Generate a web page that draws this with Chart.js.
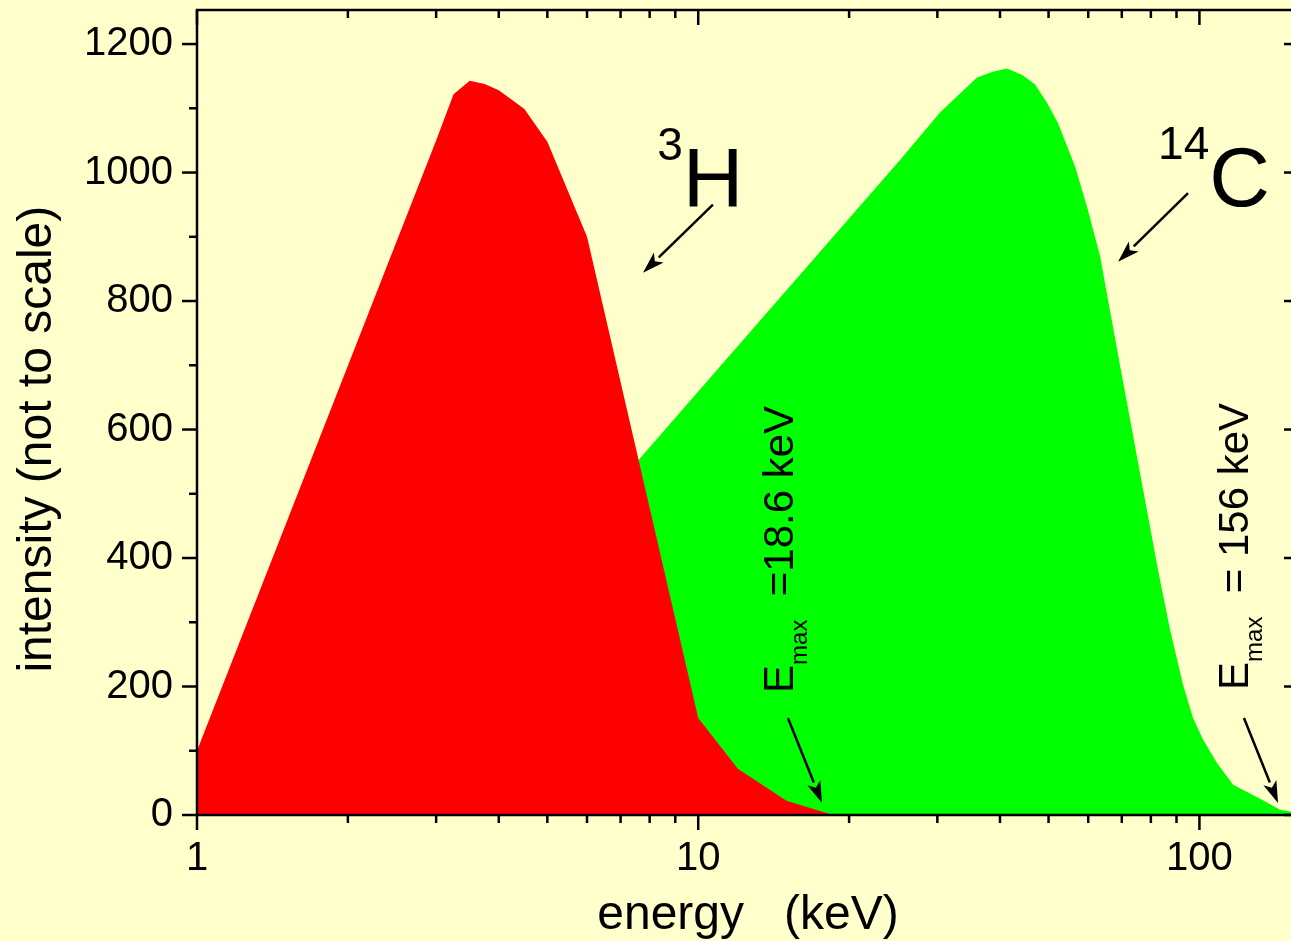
<!DOCTYPE html>
<html>
<head>
<meta charset="utf-8">
<script src="https://cdn.jsdelivr.net/npm/chart.js@4.4.1/dist/chart.umd.min.js"></script>
<style>
  html, body { margin: 0; padding: 0; overflow: hidden; background: #FFFFCC; }
  canvas { display: block; }
</style>
</head>
<body>
<canvas id="c" width="1301" height="941"></canvas>
<script>
// ---- data (energy in keV, intensity in arbitrary units) ----
const tritiumEnergy    = [1, 3, 3.25, 3.5, 3.75, 4, 4.5, 5, 6, 10, 12, 15, 18.6];
const tritiumIntensity = [100, 1050, 1122, 1143, 1138, 1128, 1099, 1048, 900, 151, 72, 22, 0];

const carbonEnergy    = [1.85, 7.55, 25.3, 30.4, 36, 38.7, 41.3, 44.3, 47, 49.6, 52.2, 56.5, 59.9, 63.4, 65.7, 69.4, 73.4, 77.9, 82.7, 87.4, 92.8, 97.1, 101.7, 108.4, 116.7, 133.9, 144.8, 152.6, 156];
const carbonIntensity = [0, 550, 1020, 1094, 1148, 1157, 1162, 1152, 1137, 1109, 1077, 1009, 942, 869, 802, 701, 599, 490, 381, 288, 202, 151, 117, 81, 47, 23, 8, 5, 0];

const xMin = 1, xMax = 158;
const yMin = 0, yMax = 1253;
const xMajorLabels = [1, 10, 100];
const yLabelStep = 200;
const yTickStep = 100;

const xTitle = 'energy   (keV)';
const yTitle = 'intensity (not to scale)    ';

// annotations in data units [energy, intensity]
const arrows = [
  [[10.70, 950], [7.76, 844]],
  [[94.9, 968], [68.8, 861]],
  [[15.1, 151], [17.66, 18.7]],
  [[122.7, 151], [143.5, 18.7]]
];
const isotopeLabels = [
  { at: [8.28, 947], sup: '3', main: 'H' },
  { at: [82.7, 948], sup: '14', main: 'C' }
];
const emaxLabels = [
  { at: [15.46, 190], rest: '  =18.6 keV' },
  { at: [125, 194.6], rest: '  = 156 keV' }
];

const FONT = '"Liberation Sans", Arial, Helvetica, sans-serif';

const bgPlugin = {
  id: 'bg',
  beforeDraw(chart) {
    const ctx = chart.ctx;
    ctx.save();
    ctx.fillStyle = '#FFFFCC';
    ctx.fillRect(0, 0, chart.width, chart.height);
    ctx.restore();
  }
};

function seg(ctx, x1, y1, x2, y2) {
  ctx.beginPath(); ctx.moveTo(x1, y1); ctx.lineTo(x2, y2); ctx.stroke();
}

const framePlugin = {
  id: 'frame',
  afterDatasetsDraw(chart) {
    const { ctx, chartArea: { left, right, top, bottom }, scales: { x, y } } = chart;
    ctx.save();
    ctx.strokeStyle = '#000';
    ctx.lineWidth = 2.5;
    ctx.lineCap = 'butt';
    x.ticks.forEach(t => {
      const v = t.value;
      const e = Math.floor(Math.log10(v) + 1e-9);
      const m = v / Math.pow(10, e);
      if (Math.abs(m - Math.round(m)) > 1e-6) return;
      const major = Math.round(m) === 1;
      const len = major ? 15 : 8;
      const px = x.getPixelForValue(v);
      seg(ctx, px, bottom, px, bottom + len);
      seg(ctx, px, top, px, top + len);
    });
    y.ticks.forEach(t => {
      const v = t.value;
      if (v % yTickStep !== 0) return;
      const major = v % yLabelStep === 0;
      const len = major ? 15 : 8;
      const py = y.getPixelForValue(v);
      seg(ctx, left - len, py, left, py);
      seg(ctx, right - len, py, right, py);
    });
    ctx.strokeRect(left, top, right - left, bottom - top);
    ctx.restore();
  },
  afterDraw(chart) {
    const { ctx, scales: { x, y } } = chart;
    const P = (p) => [x.getPixelForValue(p[0]), y.getPixelForValue(p[1])];
    ctx.save();
    ctx.strokeStyle = '#000';
    ctx.fillStyle = '#000';
    ctx.lineWidth = 2.5;
    arrows.forEach(a => {
      const [x1, y1] = P(a[0]);
      const [x2, y2] = P(a[1]);
      const ang = Math.atan2(y2 - y1, x2 - x1);
      const hl = 22, hw = 7;
      const bx = x2 - hl * Math.cos(ang), by = y2 - hl * Math.sin(ang);
      seg(ctx, x1, y1, bx, by);
      ctx.beginPath();
      ctx.moveTo(x2, y2);
      ctx.lineTo(bx + hw * Math.sin(ang), by - hw * Math.cos(ang));
      ctx.lineTo(bx + 0.25 * hl * Math.cos(ang), by + 0.25 * hl * Math.sin(ang));
      ctx.lineTo(bx - hw * Math.sin(ang), by + hw * Math.cos(ang));
      ctx.closePath();
      ctx.fill();
    });
    ctx.textBaseline = 'alphabetic';
    ctx.textAlign = 'left';
    isotopeLabels.forEach(l => {
      const [px, py] = P(l.at);
      ctx.font = '46px ' + FONT;
      ctx.fillText(l.sup, px, py - 47);
      const w = ctx.measureText(l.sup).width;
      ctx.font = '84px ' + FONT;
      ctx.fillText(l.main, px + w, py);
    });
    emaxLabels.forEach(l => {
      const [px, py] = P(l.at);
      ctx.save();
      ctx.translate(px, py);
      ctx.rotate(-Math.PI / 2);
      ctx.font = '42px ' + FONT;
      ctx.fillText('E', 0, 0);
      let w = ctx.measureText('E').width;
      ctx.font = '24px ' + FONT;
      ctx.fillText('max', w, 14);
      w += ctx.measureText('max').width;
      ctx.font = '42px ' + FONT;
      ctx.fillText(l.rest, w, 0);
      ctx.restore();
    });
    ctx.restore();
  }
};

const toXY = (xs, ys) => xs.map((v, i) => ({ x: v, y: ys[i] }));

new Chart(document.getElementById('c'), {
  type: 'line',
  data: {
    datasets: [
      {
        label: '3H',
        data: toXY(tritiumEnergy, tritiumIntensity),
        backgroundColor: '#FF0000',
        borderWidth: 0,
        borderColor: 'rgba(0,0,0,0)',
        pointRadius: 0,
        tension: 0,
        fill: 'origin'
      },
      {
        label: '14C',
        data: toXY(carbonEnergy, carbonIntensity),
        backgroundColor: '#00FF00',
        borderWidth: 0,
        borderColor: 'rgba(0,0,0,0)',
        pointRadius: 0,
        tension: 0,
        fill: 'origin'
      }
    ]
  },
  options: {
    responsive: false,
    animation: false,
    devicePixelRatio: 1,
    layout: { padding: { top: 10, right: 2, left: 0, bottom: 0 } },
    plugins: { legend: { display: false }, tooltip: { enabled: false } },
    scales: {
      x: {
        type: 'logarithmic',
        min: xMin,
        max: xMax,
        position: 'bottom',
        grid: { display: false, drawTicks: false },
        border: { display: false },
        ticks: {
          autoSkip: false,
          includeBounds: false,
          maxRotation: 0,
          minRotation: 0,
          padding: 20,
          color: '#000',
          font: { family: FONT, size: 40 },
          callback: (v) => xMajorLabels.includes(v) ? String(v) : ''
        },
        title: {
          display: true,
          text: xTitle,
          color: '#000',
          font: { family: FONT, size: 48, lineHeight: 1 },
          padding: { top: 0, bottom: 1 }
        },
        afterFit: (s) => { s.height = 126; s.paddingLeft = 0; s.paddingRight = 0; }
      },
      y: {
        type: 'linear',
        min: yMin,
        max: yMax,
        position: 'left',
        grid: { display: false, drawTicks: false },
        border: { display: false },
        ticks: {
          stepSize: yTickStep,
          autoSkip: false,
          includeBounds: false,
          padding: 24,
          color: '#000',
          font: { family: FONT, size: 40 },
          callback: (v) => (v % yLabelStep === 0) ? String(v) : ''
        },
        title: {
          display: true,
          text: yTitle,
          color: '#000',
          font: { family: FONT, size: 48, lineHeight: 1 },
          padding: { top: 14, bottom: 0 }
        },
        afterFit: (s) => { s.width = 197; s.paddingTop = 0; s.paddingBottom = 0; }
      }
    }
  },
  plugins: [bgPlugin, framePlugin]
});
</script>
</body>
</html>
